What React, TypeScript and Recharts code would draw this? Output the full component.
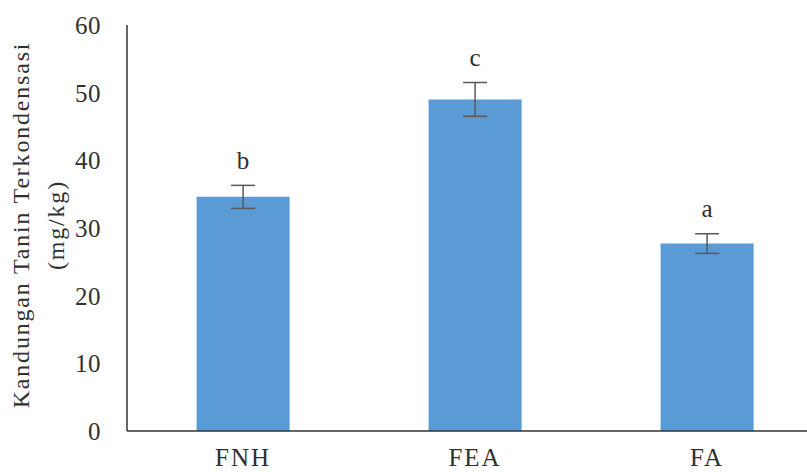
import { BarChart, Bar, XAxis, YAxis, ErrorBar, LabelList } from 'recharts'

const categories = ['FNH', 'FEA', 'FA']
const tanin = [34.6, 49.0, 27.7]
const taninErr = [1.7, 2.5, 1.45]
const letters = ['b', 'c', 'a']
const yTicks = [0, 10, 20, 30, 40, 50, 60]

const data = categories.map((name, i) => ({
  name,
  value: tanin[i],
  err: taninErr[i],
  letter: letters[i],
}))

const font = '"Liberation Serif", "Times New Roman", serif'
const textColor = '#303030'

function LetterLabel(props: any) {
  const { x, y, width, height, index } = props
  const perUnit = height / tanin[index]
  const errPx = taninErr[index] * perUnit
  return (
    <text
      x={x + width / 2}
      y={y - errPx - 22}
      textAnchor="middle"
      dominantBaseline="middle"
      fontFamily={font}
      fontSize={25}
      fill={textColor}
    >
      {letters[index]}
    </text>
  )
}

function AxisTitle(props: any) {
  const { viewBox } = props
  const cy = viewBox.y + viewBox.height / 2 - 3
  return (
    <g fontFamily={font} fontSize={24} fill={textColor} letterSpacing={1.8}>
      <text x={23} y={cy} transform={`rotate(-90 23 ${cy})`} textAnchor="middle" dominantBaseline="middle">
        Kandungan Tanin Terkondensasi
      </text>
      <text x={58} y={cy} transform={`rotate(-90 58 ${cy})`} textAnchor="middle" dominantBaseline="middle">
        (mg/kg)
      </text>
    </g>
  )
}

export default function App() {
  return (
    <div style={{ position: 'absolute', left: 0, top: 0, width: 807, height: 472, overflow: 'hidden', background: '#fff' }}>
      <BarChart
        width={840}
        height={472}
        data={data}
        margin={{ top: 25, right: 17, bottom: 0, left: 0 }}
        barCategoryGap="30%"
      >
        <XAxis
          dataKey="name"
          height={41}
          axisLine={{ stroke: '#333', strokeWidth: 1.5 }}
          tickLine={false}
          tick={{ fontFamily: font, fontSize: 25, fill: textColor, dy: 9, letterSpacing: 2 }}
        />
        <YAxis
          width={127}
          domain={[0, 60]}
          ticks={yTicks}
          axisLine={{ stroke: '#333', strokeWidth: 1.5 }}
          tickLine={false}
          tickMargin={20}
          tick={{ fontFamily: font, fontSize: 25, fill: textColor, letterSpacing: 0.5 }}
          label={{ content: <AxisTitle /> }}
        />
        <Bar dataKey="value" fill="#5B9BD5" isAnimationActive={false}>
          <ErrorBar dataKey="err" width={12} stroke="#595959" strokeWidth={1.5} />
          <LabelList dataKey="letter" content={<LetterLabel />} />
        </Bar>
      </BarChart>
    </div>
  )
}
